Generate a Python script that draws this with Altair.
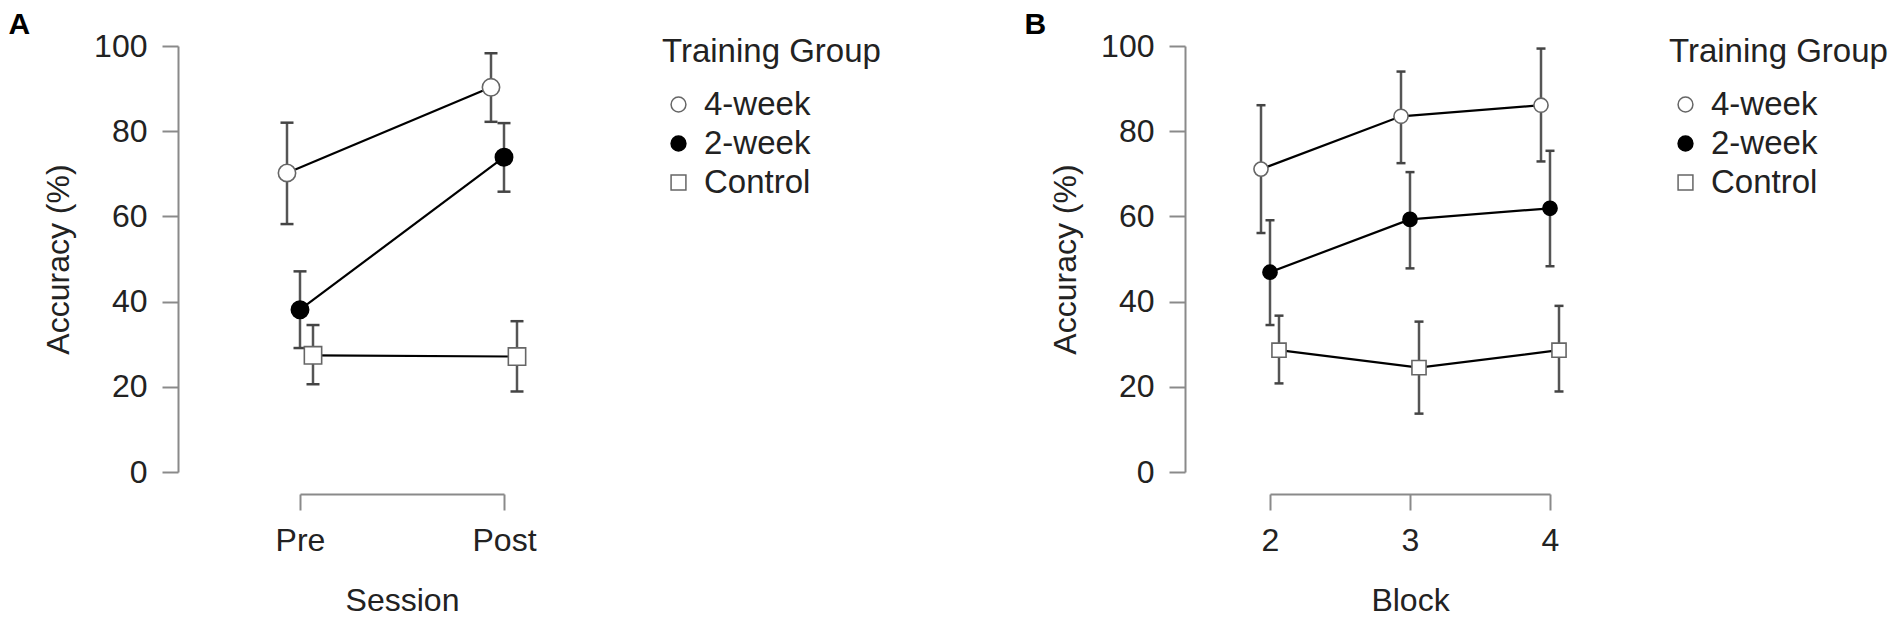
import altair as alt
import pandas as pd

groups = ["4-week", "2-week", "Control"]

# Panel A: Session
sessions = ["Pre", "Post"]
a_mean_4wk = [70.2, 90.3]
a_lo_4wk = [58.2, 82.2]
a_hi_4wk = [82.0, 98.3]
a_mean_2wk = [38.1, 73.9]
a_lo_2wk = [29.1, 65.8]
a_hi_2wk = [47.1, 81.9]
a_mean_ctl = [27.4, 27.1]
a_lo_ctl = [20.6, 18.9]
a_hi_ctl = [34.5, 35.4]

# Panel B: Block
blocks = ["2", "3", "4"]
b_mean_4wk = [71.1, 83.5, 86.1]
b_lo_4wk = [56.1, 72.5, 72.9]
b_hi_4wk = [86.1, 94.0, 99.4]
b_mean_2wk = [46.9, 59.3, 61.9]
b_lo_2wk = [34.5, 47.8, 48.3]
b_hi_2wk = [59.1, 70.4, 75.4]
b_mean_ctl = [28.6, 24.5, 28.6]
b_lo_ctl = [20.8, 13.7, 18.9]
b_hi_ctl = [36.7, 35.3, 39.0]

FONT = "Liberation Sans"
FS = 32
LFS = 33


def make_df(cats, series):
    rows = []
    for g, (m, lo, hi) in zip(groups, series):
        for c, mv, lv, hv in zip(cats, m, lo, hi):
            rows.append({"cat": c, "group": g, "mean": mv, "lo": lv, "hi": hv})
    return pd.DataFrame(rows)


df_a = make_df(sessions, [(a_mean_4wk, a_lo_4wk, a_hi_4wk),
                          (a_mean_2wk, a_lo_2wk, a_hi_2wk),
                          (a_mean_ctl, a_lo_ctl, a_hi_ctl)])
df_b = make_df(blocks, [(b_mean_4wk, b_lo_4wk, b_hi_4wk),
                        (b_mean_2wk, b_lo_2wk, b_hi_2wk),
                        (b_mean_ctl, b_lo_ctl, b_hi_ctl)])


def panel(df, cats, xtitle, width, dodge, msize, capsize, yoff, label, label_dx, legx):
    x = alt.X("cat:O", sort=cats, title=xtitle,
              scale=alt.Scale(type="point", padding=0),
              axis=alt.Axis(labelAngle=0, offset=22, tickSize=16, labelPadding=15,
                            titlePadding=29))
    xo = alt.XOffset("group:N", sort=groups,
                     scale=alt.Scale(type="point", domain=groups,
                                     range=[-dodge, dodge], padding=0))
    yscale = alt.Scale(domain=[0, 100], nice=False, zero=True)
    yaxis = alt.Axis(values=[0, 20, 40, 60, 80, 100], offset=yoff, tickSize=16,
                     labelPadding=15, titlePadding=18, title="Accuracy (%)")

    base = alt.Chart(df)
    err = base.mark_rule(stroke="#555555", strokeWidth=2.5).encode(
        x=x, xOffset=xo,
        y=alt.Y("lo:Q", scale=yscale, axis=yaxis),
        y2="hi:Q")
    cap_lo = base.mark_point(shape="M-1,0L1,0", size=capsize, stroke="#444444",
                             strokeWidth=2.5, opacity=1).encode(
        x=x, xOffset=xo, y=alt.Y("lo:Q", scale=yscale, axis=yaxis))
    cap_hi = base.mark_point(shape="M-1,0L1,0", size=capsize, stroke="#444444",
                             strokeWidth=2.5, opacity=1).encode(
        x=x, xOffset=xo, y=alt.Y("hi:Q", scale=yscale, axis=yaxis))
    line = base.mark_line(color="black", strokeWidth=2.2).encode(
        x=x, xOffset=xo, y=alt.Y("mean:Q", scale=yscale, axis=yaxis),
        detail="group:N")
    leg = alt.Legend(title="Training Group", orient="none", legendX=legx, legendY=-10,
                     titleLimit=600, labelLimit=400)
    pts = base.mark_point(size=msize, strokeWidth=1.6, opacity=1, fillOpacity=1).encode(
        x=x, xOffset=xo, y=alt.Y("mean:Q", scale=yscale, axis=yaxis),
        shape=alt.Shape("group:N", sort=groups,
                        scale=alt.Scale(domain=groups, range=["circle", "circle", "square"]),
                        legend=leg),
        fill=alt.Fill("group:N", sort=groups,
                      scale=alt.Scale(domain=groups, range=["white", "black", "white"]),
                      legend=leg),
        stroke=alt.Stroke("group:N", sort=groups,
                          scale=alt.Scale(domain=groups, range=["#666666", "black", "#666666"]),
                          legend=leg))
    return alt.layer(err, cap_lo, cap_hi, line, pts).properties(
        width=width, height=426,
        title=alt.TitleParams(label, anchor="start", frame="bounds", dx=label_dx,
                              offset=-10, fontSize=30, fontWeight="bold",
                              font=FONT, color="black"))


pa = panel(df_a, sessions, "Session", 204, 13, 300, 169, 122, "A", -34, 362)
pb = panel(df_b, blocks, "Block", 280, 9, 200, 81, 85, "B", -25, 399)

chart = alt.hconcat(pa, pb, spacing=143).resolve_scale(
    x="independent", y="independent", shape="independent",
    fill="independent", stroke="independent", xOffset="independent"
).resolve_legend(shape="independent", fill="independent", stroke="independent").properties(
    padding={"left": 0, "top": 2, "right": 0, "bottom": 0}
).configure_view(stroke=None).configure_axis(
    grid=False, domainColor="#8a8a8a", domainWidth=2, tickColor="#8a8a8a", tickWidth=2,
    labelFont=FONT, labelFontSize=FS, labelColor="#222222",
    titleFont=FONT, titleFontSize=FS, titleFontWeight="normal", titleColor="#222222"
).configure_legend(
    titleFont=FONT, titleFontSize=LFS, titleFontWeight="normal", titleColor="#222222",
    labelFont=FONT, labelFontSize=LFS, labelColor="#222222", symbolSize=220,
    symbolStrokeWidth=1.5, rowPadding=5, titlePadding=19, labelOffset=9, padding=0
)

chart.save("out.html", embed_options={"renderer": "svg", "actions": False})
